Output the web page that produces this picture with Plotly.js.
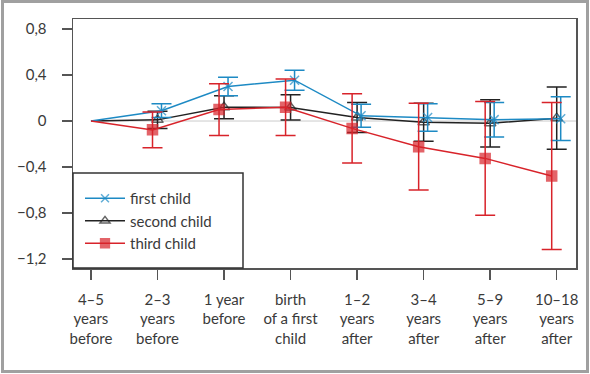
<!DOCTYPE html>
<html>
<head>
<meta charset="utf-8">
<script src="https://cdn.plot.ly/plotly-3.0.1.min.js"></script>
<style>
html,body{margin:0;padding:0;background:#fff;}
#chart{width:590px;height:374px;}
</style>
</head>
<body>
<div id="chart"></div>
<script>
// ---- data ----
const categories = ['4–5<br>years<br>before', '2–3<br>years<br>before', '1 year<br>before',
  'birth<br>of a first<br>child', '1–2<br>years<br>after', '3–4<br>years<br>after',
  '5–9<br>years<br>after', '10–18<br>years<br>after'];
const seriesNames = ['first child', 'second child', 'third child'];
const firstChild = [0, 0.09, 0.30, 0.355, 0.045, 0.03, 0.012, 0.02];
const firstChildErr = [null, 0.06, 0.08, 0.087, 0.10, 0.12, 0.15, 0.19];
const secondChild = [0, 0.01, 0.12, 0.118, 0.03, -0.01, -0.02, 0.025];
const secondChildErr = [null, 0.075, 0.10, 0.11, 0.13, 0.165, 0.205, 0.27];
const thirdChild = [0, -0.077, 0.10, 0.12, -0.064, -0.223, -0.325, -0.478];
const thirdChildErr = [null, 0.155, 0.225, 0.245, 0.30, 0.377, 0.495, 0.64];
const yTickVals = [0.8, 0.4, 0, -0.4, -0.8, -1.2];
const yTickText = ['0,8', '0,4', '0', '−0,4', '−0,8', '−1,2'];

// ---- layout helpers ----
const W = 590, H = 374;
const M = {l: 73, r: 14, t: 19, b: 106};
const PW = W - M.l - M.r, PH = H - M.t - M.b;
const px2x = p => (p - M.l) / PW;
const py2y = p => (H - M.b - p) / PH;
const FONT = 'Lato, "Open Sans", sans-serif';
const TXT = '#3a3a3a';

function mkTrace(name, ys, errs, color, symbol, size, shift, rank) {
  const idx = ys.map((_, i) => i);
  return {
    type: 'scatter', mode: 'lines+markers', name: name, legendrank: rank,
    x: idx.map(i => i === 0 ? i : i + shift),
    y: ys,
    line: {color: color, width: 1.5},
    marker: {symbol: symbol, color: color, size: idx.map(i => i === 0 ? 0 : size),
             line: {color: color, width: 1.5}},
    error_y: {type: 'data', array: errs.map(e => e === null ? NaN : e), visible: true,
              color: color, thickness: 1.5, width: 10},
    cliponaxis: false
  };
}

const BLUE = '#1d8ac4', BLACK = '#222222', RED = '#d8232a';
const data = [
  mkTrace(seriesNames[1], secondChild, secondChildErr, BLACK, 'triangle-up-open', 10, 0, 2),
  mkTrace(seriesNames[0], firstChild, firstChildErr, BLUE, 'x-thin-open', 9, 0.06, 1),
  mkTrace(seriesNames[2], thirdChild, thirdChildErr, RED, 'square', 10, -0.075, 3)
];

const xRange = [-0.27, 7.29];
const layout = {
  width: W, height: H,
  margin: M,
  paper_bgcolor: '#fff', plot_bgcolor: '#fff',
  font: {family: FONT, size: 15, color: TXT},
  showlegend: true,
  legend: {x: px2x(80), y: py2y(182), xanchor: 'left', yanchor: 'top',
           bgcolor: 'rgba(0,0,0,0)', borderwidth: 0, itemwidth: 40,
           font: {family: FONT, size: 15, color: TXT}, tracegroupgap: 0},
  xaxis: {range: xRange, tickvals: categories.map((_, i) => i), ticktext: categories,
          showgrid: false, zeroline: false, showline: true, mirror: true,
          linecolor: '#555', linewidth: 1.5, ticks: 'outside', ticklen: 10,
          tickcolor: '#555', tickwidth: 1.5, ticklabelstandoff: 7,
          tickfont: {family: FONT, size: 15, color: TXT}, fixedrange: true},
  yaxis: {range: [-1.278, 0.887], tickvals: yTickVals, ticktext: yTickText,
          showgrid: false, zeroline: false, showline: true, mirror: true,
          linecolor: '#555', linewidth: 1.5, ticks: 'outside', ticklen: 10,
          tickcolor: '#555', tickwidth: 1.5, ticklabelstandoff: 12,
          tickfont: {family: FONT, size: 15, color: TXT}, fixedrange: true},
  shapes: [
    {type: 'line', xref: 'x', yref: 'y', x0: 0, x1: xRange[1], y0: 0, y1: 0,
     line: {color: '#cccccc', width: 1}, layer: 'below'},
    {type: 'rect', xref: 'paper', yref: 'paper', x0: 0, x1: px2x(243), y0: 0, y1: py2y(173),
     fillcolor: '#fff', line: {color: '#333', width: 1.5}, layer: 'above'},
    {type: 'rect', xref: 'paper', yref: 'paper', x0: px2x(2.5), x1: px2x(587.5),
     y0: py2y(371.5), y1: py2y(1.5), line: {color: '#a0a0a0', width: 3}, layer: 'below'}
  ]
};

Plotly.newPlot('chart', data, layout, {displayModeBar: false, staticPlot: true});
</script>
</body>
</html>
